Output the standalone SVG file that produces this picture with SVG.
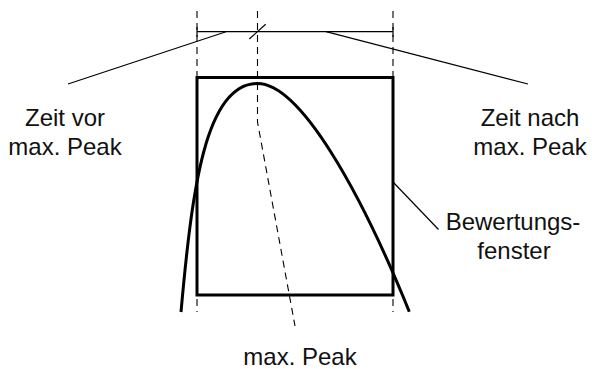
<svg xmlns="http://www.w3.org/2000/svg" width="592" height="369" viewBox="0 0 592 369">
<style>
  .thin { fill: none; stroke: #000; stroke-width: 1.2; }
  .dash { fill: none; stroke: #000; stroke-width: 1.1; stroke-dasharray: 7,5; }
  .thick { fill: none; stroke: #000; stroke-width: 3; }
  text { font-family: "Liberation Sans", Arial, sans-serif; font-size: 24px; fill: #111; text-anchor: middle; }
</style>
<rect width="592" height="369" fill="#fff"/>
<g id="guides">
  <path class="dash" d="M197,11 V312"/>
  <path class="dash" d="M393,11 V312"/>
  <path class="dash" d="M257.5,11 V122 L295,326"/>
</g>
<g id="window">
  <rect class="thick" x="197" y="77.5" width="196" height="217.5"/>
</g>
<g id="curve">
  <path class="thick" d="M181,312 C192,190 205,83.5 257.5,83.5 C300,83.5 360,190 409.3,311.7"/>
</g>
<g id="connectors">
  <path class="thin" d="M197,31.7 H393"/>
  <path class="thin" d="M197,27 V37 M393,27 V37"/>
  <path class="thin" d="M249.3,39 L265.7,24.3"/>
  <path class="thin" d="M226,31.7 L68,84"/>
  <path class="thin" d="M326,31.7 L528,84"/>
  <path class="thin" d="M393,182 L438.5,229.5"/>
</g>
<g id="label-vor">
  <text x="65" y="126">Zeit vor</text>
  <text x="65" y="155">max. Peak</text>
</g>
<g id="label-nach">
  <text x="530" y="126">Zeit nach</text>
  <text x="530" y="155">max. Peak</text>
</g>
<g id="label-fenster">
  <text x="513" y="230">Bewertungs-</text>
  <text x="514" y="259">fenster</text>
</g>
<g id="label-peak">
  <text x="300" y="365">max. Peak</text>
</g>
</svg>
